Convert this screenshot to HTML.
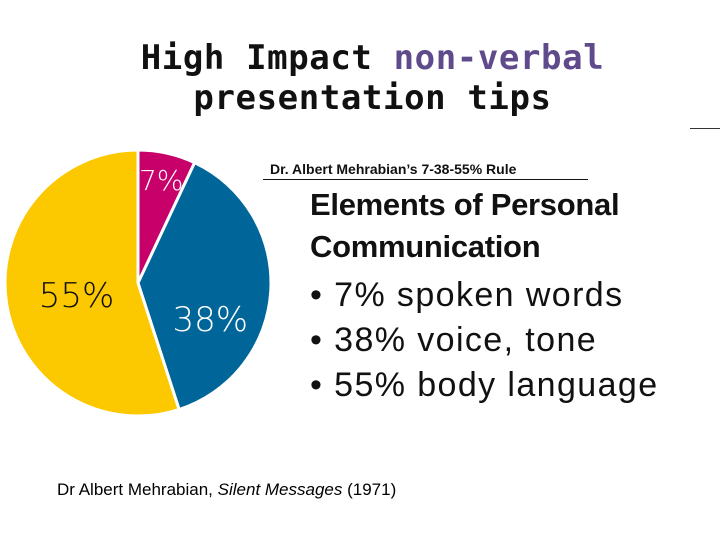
<!DOCTYPE html>
<html><head><meta charset="utf-8"><style>
body{margin:0;width:720px;height:540px;background:#fff;position:relative;overflow:hidden;font-family:"Liberation Sans",sans-serif}
.a{position:absolute;white-space:nowrap}
</style></head><body>
<div class="a" style="left:0;width:745px;top:38px;text-align:center;font-family:'DejaVu Sans Mono',monospace;font-weight:bold;font-size:34px;line-height:40px;color:#111;letter-spacing:0.6px">High Impact <span style="color:#5f4b8b">non-verbal</span><br>presentation tips</div>
<div class="a" style="left:690px;top:128px;width:30px;height:1px;background:#333"></div>
<svg class="a" style="left:0;top:0" width="720" height="540">
<g id="pie"></g>
</svg>
<div class="a" style="left:270px;top:161px;font-size:14px;font-weight:bold;color:#111">Dr. Albert Mehrabian’s 7-38-55% Rule</div>
<div class="a" style="left:263px;top:179px;width:325px;height:1px;background:#111"></div>
<div class="a" style="left:310px;top:184px;font-size:31px;font-weight:bold;line-height:42px;color:#111;letter-spacing:-0.3px">Elements of Personal<br>Communication</div>
<div class="a" style="left:310px;top:273px;font-size:34px;line-height:45px;color:#111;letter-spacing:1.4px">• 7% spoken words<br>• 38% voice, tone<br>• 55% body language</div>
<div class="a" style="left:57px;top:480px;font-size:17px;color:#000">Dr Albert Mehrabian, <i>Silent Messages</i> (1971)</div>
<script>
const categories=['spoken words','voice, tone','body language'];
const values=[7,38,55];
const labels=['7%','38%','55%'];
const colors=['#c8006a','#006699','#fcc800'];
const cx=138,cy=283,r=133;
const g=document.getElementById('pie');
const ns='http://www.w3.org/2000/svg';
const total=values.reduce((a,b)=>a+b,0);
let acc=0;
values.forEach((v,i)=>{
 const a0=acc/total*2*Math.PI;acc+=v;const a1=acc/total*2*Math.PI;
 const p=(a)=>[cx+r*Math.sin(a),cy-r*Math.cos(a)];
 const [x0,y0]=p(a0),[x1,y1]=p(a1);
 const path=document.createElementNS(ns,'path');
 path.setAttribute('d',`M${cx},${cy}L${x0},${y0}A${r},${r} 0 ${a1-a0>Math.PI?1:0} 1 ${x1},${y1}Z`);
 path.setAttribute('fill',colors[i]);path.setAttribute('stroke','#fff');path.setAttribute('stroke-width','3');
 
 
 g.appendChild(path);
});
acc=0;
const dx=[0,-10,20],dy=[0,32,0];
values.forEach((v,i)=>{
 const m=(acc+v/2)/total*2*Math.PI;acc+=v;
 const rr=i===0?r*0.80:r*0.62;
 const t=document.createElementNS(ns,'text');
 t.setAttribute('x',cx+rr*Math.sin(m)+dx[i]);t.setAttribute('y',cy-rr*Math.cos(m)+11+dy[i]);
 t.setAttribute('text-anchor','middle');t.setAttribute('font-size',i===0?28:34);
 t.setAttribute('fill',i===2?'#111':'#fff');t.setAttribute('font-family','DejaVu Sans, sans-serif');
 t.setAttribute('font-weight','300');
 t.textContent=labels[i];
 
 
 g.appendChild(t);
});
</script>
</body></html>
